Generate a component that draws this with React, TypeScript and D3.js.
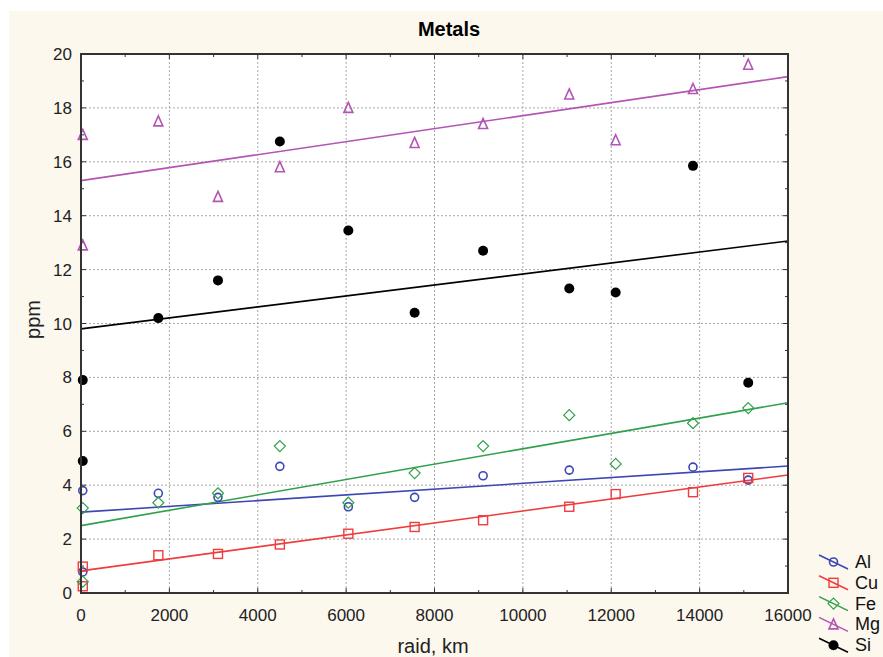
import React, { useEffect, useRef } from "react";
import * as d3 from "d3";

// raid distance, km (two samples at the start point)
const raid = [40, 40, 1750, 3100, 4500, 6050, 7550, 9100, 11050, 12100, 13850, 15100];

const metals = ["Al", "Cu", "Fe", "Mg", "Si"];
const al = [3.8, 0.78, 3.7, 3.55, 4.7, 3.2, 3.55, 4.35, 4.56, null, 4.67, 4.19];
const cu = [0.98, 0.25, 1.4, 1.45, 1.8, 2.2, 2.45, 2.7, 3.2, 3.67, 3.74, 4.27];
const fe = [3.15, 0.42, 3.35, 3.7, 5.45, 3.35, 4.45, 5.45, 6.6, 4.79, 6.3, 6.86];
const mg = [17.0, 12.9, 17.5, 14.7, 15.8, 18.0, 16.7, 17.4, 18.5, 16.8, 18.7, 19.6];
const si = [7.9, 4.9, 10.2, 11.6, 16.75, 13.45, 10.4, 12.7, 11.3, 11.15, 15.85, 7.8];
const values = [al, cu, fe, mg, si];

// linear fit lines: value at raid = 0 and at raid = 16000
const fitStart = [3.0, 0.82, 2.5, 15.3, 9.8];
const fitEnd = [4.71, 4.38, 7.06, 19.16, 13.06];

const colors = ["#3c46b4", "#f03c3c", "#30a04c", "#b454b4", "#000000"];

const xTicks = [0, 2000, 4000, 6000, 8000, 10000, 12000, 14000, 16000];
const yTicks = [0, 2, 4, 6, 8, 10, 12, 14, 16, 18, 20];

export default function App() {
  const ref = useRef<SVGSVGElement>(null);

  useEffect(() => {
    const width = 883, height = 657;
    const m = { left: 81, top: 54, right: 788, bottom: 593 };
    const font = "'Liberation Sans', Arial, sans-serif";

    const svg = d3.select(ref.current);
    svg.selectAll("*").remove();

    svg.append("rect").attr("width", width).attr("height", height).attr("fill", "#ffffff");
    svg.append("rect").attr("x", 9).attr("y", 11).attr("width", width - 9).attr("height", height - 11)
      .attr("fill", "#fdf8ee");

    const x = d3.scaleLinear().domain([0, 16000]).range([m.left, m.right]);
    const y = d3.scaleLinear().domain([0, 20]).range([m.bottom, m.top]);

    svg.append("rect").attr("x", m.left).attr("y", m.top)
      .attr("width", m.right - m.left).attr("height", m.bottom - m.top).attr("fill", "#ffffff");

    // grid
    const grid = svg.append("g").attr("stroke", "#a8a8a8").attr("stroke-dasharray", "2,2").attr("stroke-width", 1);
    xTicks.slice(1, -1).forEach(t => {
      grid.append("line").attr("x1", x(t)).attr("x2", x(t)).attr("y1", m.top).attr("y2", m.bottom);
    });
    yTicks.slice(1, -1).forEach(t => {
      grid.append("line").attr("y1", y(t)).attr("y2", y(t)).attr("x1", m.left).attr("x2", m.right);
    });

    // inward ticks on four sides
    const ticks = svg.append("g").attr("stroke", "#333").attr("stroke-width", 1);
    d3.range(0, 16001, 1000).forEach(t => {
      const len = t % 2000 === 0 ? 5 : 3;
      ticks.append("line").attr("x1", x(t)).attr("x2", x(t)).attr("y1", m.bottom).attr("y2", m.bottom - len);
      ticks.append("line").attr("x1", x(t)).attr("x2", x(t)).attr("y1", m.top).attr("y2", m.top + len);
    });
    d3.range(0, 21, 1).forEach(t => {
      const len = t % 2 === 0 ? 5 : 3;
      ticks.append("line").attr("y1", y(t)).attr("y2", y(t)).attr("x1", m.left).attr("x2", m.left + len);
      ticks.append("line").attr("y1", y(t)).attr("y2", y(t)).attr("x1", m.right).attr("x2", m.right - len);
    });

    // tick labels
    svg.append("g").selectAll("text").data(xTicks).enter().append("text")
      .attr("x", d => x(d)).attr("y", m.bottom + 28)
      .attr("text-anchor", "middle").attr("font-family", font).attr("font-size", 17).attr("fill", "#222")
      .text(d => d);
    svg.append("g").selectAll("text").data(yTicks).enter().append("text")
      .attr("x", m.left - 9).attr("y", d => y(d) + 6)
      .attr("text-anchor", "end").attr("font-family", font).attr("font-size", 17).attr("fill", "#222")
      .text(d => d);

    const plot = svg.append("g");

    // fit lines
    metals.forEach((name, i) => {
      plot.append("line")
        .attr("x1", x(0)).attr("y1", y(fitStart[i]))
        .attr("x2", x(16000)).attr("y2", y(fitEnd[i]))
        .attr("stroke", colors[i]).attr("stroke-width", 1.6);
    });

    const marker = (g: any, i: number, cx: number, cy: number) => {
      const c = colors[i];
      if (i === 0) {
        g.append("circle").attr("cx", cx).attr("cy", cy).attr("r", 4)
          .attr("fill", "none").attr("stroke", c).attr("stroke-width", 1.6);
      } else if (i === 1) {
        g.append("rect").attr("x", cx - 4.5).attr("y", cy - 4.5).attr("width", 9).attr("height", 9)
          .attr("fill", "none").attr("stroke", c).attr("stroke-width", 1.4);
      } else if (i === 2) {
        g.append("path").attr("d", `M${cx},${cy - 5.5}L${cx + 5.5},${cy}L${cx},${cy + 5.5}L${cx - 5.5},${cy}Z`)
          .attr("fill", "none").attr("stroke", c).attr("stroke-width", 1.2);
      } else if (i === 3) {
        g.append("path").attr("d", `M${cx},${cy - 5.5}L${cx + 4.5},${cy + 4.5}L${cx - 4.5},${cy + 4.5}Z`)
          .attr("fill", "none").attr("stroke", c).attr("stroke-width", 1.6);
      } else {
        g.append("circle").attr("cx", cx).attr("cy", cy).attr("r", 5).attr("fill", c);
      }
    };

    values.forEach((vals, i) => {
      vals.forEach((v, j) => {
        if (v === null) return;
        marker(plot, i, x(raid[j]), y(v));
      });
    });

    // frame
    svg.append("rect").attr("x", m.left).attr("y", m.top)
      .attr("width", m.right - m.left).attr("height", m.bottom - m.top)
      .attr("fill", "none").attr("stroke", "#333").attr("stroke-width", 2);

    // titles
    svg.append("text").attr("x", 449).attr("y", 36).attr("text-anchor", "middle")
      .attr("font-family", font).attr("font-size", 20).attr("font-weight", "bold").text("Metals");
    svg.append("text").attr("x", 433).attr("y", 653).attr("text-anchor", "middle")
      .attr("font-family", font).attr("font-size", 20).attr("fill", "#222").text("raid, km");
    svg.append("text").attr("transform", `translate(40,${(m.top + m.bottom) / 2 - 4}) rotate(-90)`)
      .attr("text-anchor", "middle").attr("font-family", font).attr("font-size", 20).attr("fill", "#222")
      .text("ppm");

    // legend
    const legend = svg.append("g");
    metals.forEach((name, i) => {
      const cy = 562 + i * 20.8;
      legend.append("line").attr("x1", 819).attr("y1", cy - 7).attr("x2", 848).attr("y2", cy + 7)
        .attr("stroke", colors[i]).attr("stroke-width", 1.5);
      marker(legend, i, 833.5, cy);
      legend.append("text").attr("x", 855).attr("y", cy + 6)
        .attr("font-family", font).attr("font-size", 18).attr("fill", "#111").text(name);
    });
  }, []);

  return (
    <svg ref={ref} width={883} height={657} style={{ position: "absolute", left: 0, top: 0 }} />
  );
}
